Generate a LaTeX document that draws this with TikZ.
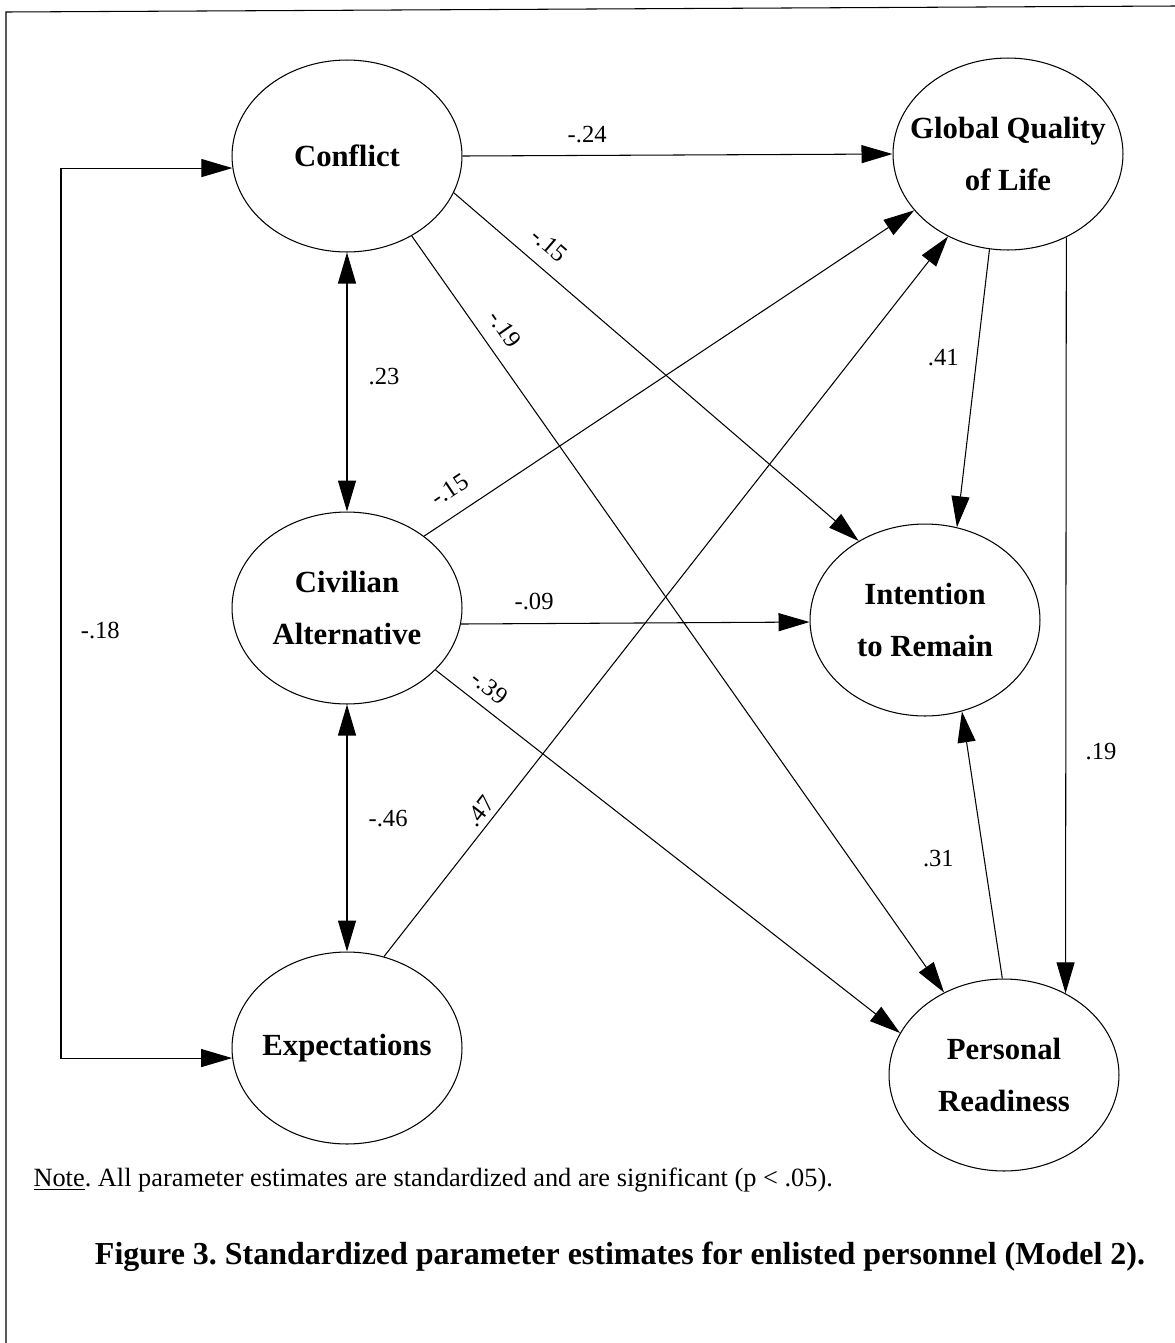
\documentclass[tikz,border=0pt]{standalone}
\usepackage{fontspec}
\setmainfont{Liberation Serif}
\usetikzlibrary{shapes.geometric,arrows.meta}
\frenchspacing

\tikzset{
  latent/.style={draw, ellipse, minimum width=4.6cm, minimum height=3.84cm, inner sep=0pt},
  nama/.style={align=center, font=\fontsize{17.5}{29.5}\selectfont\bfseries},
  coef/.style={font=\fontsize{14}{16}\selectfont, inner sep=1pt}
}

\begin{document}
\begin{tikzpicture}[x=0.02cm, y=-0.02cm, line width=0.6pt,
    >={Triangle[length=0.62cm,width=0.36cm]}]
      \useasboundingbox (0,0) rectangle (1175,1343);

      % Bingkai
      \draw (6,1343) -- (6,12) -- (1175,6);

      % Variabel laten
      \node[latent, label={[nama]center:Conflict}] (conf) at (347,156) {};
      \node[latent, label={[nama]center:Global Quality\\of Life}] (gql) at (1008,154) {};
      \node[latent, label={[nama]center:Civilian\\Alternative}] (civ) at (347,608) {};
      \node[latent, label={[nama]center:Intention\\to Remain}] (intent) at (925,620) {};
      \node[latent, label={[nama]center:Expectations}] (expect) at (347,1048) {};
      \node[latent, label={[nama]center:Personal\\Readiness}] (pers) at (1004,1075) {};
      \coordinate (rail) at (61,0);

      % Korelasi
      \draw[<->] (conf.south) -- node[coef, right=11pt, pos=0.48] {.23} (civ.north);
      \draw[<->] (civ.south) -- node[coef, right=11pt, pos=0.46] {-.46} (expect.north);
      \draw[<->] (conf.186) -- (conf.186 -| rail) |- node[coef, right=10pt, pos=0.26] {-.18} (expect.185);

      % Jalur
      \draw[->] (conf.east) -- node[coef, above=6pt, pos=0.29] {-.24} (gql.west);
      \draw[->] (conf.-19) -- node[coef, above=7pt, sloped, pos=0.2] {-.15} (intent.130);
      \draw[->] (conf.-51) -- node[coef, above=7pt, sloped, pos=0.14] {-.19} (pers.126);
      \draw[->] (civ.43) -- node[coef, above=8pt, sloped, pos=0.08] {-.15} (gql.211);
      \draw[->] (civ.-8) -- node[coef, above=6.5pt, pos=0.21] {-.09} (intent.181);
      \draw[->] (civ.-35) -- node[coef, above=5pt, sloped, pos=0.09] {-.39} (pers.158);
      \draw[->] (expect.68) -- node[coef, above=2pt, sloped, pos=0.19] {.47} (gql.234);
      \draw[->] (gql.259) -- node[coef, left=9pt, pos=0.39] {.41} (intent.71);
      \draw[->] (gql.-55) -- node[coef, right=10pt, pos=0.68] {.19} (pers.53);
      \draw[->] (pers.91) -- node[coef, left=16pt, pos=0.45] {.31} (intent.-68);

      % Keterangan
      \node[anchor=west, inner sep=0pt, font=\fontsize{15}{17}\selectfont] (note) at (33,1180)
        {\underline{Note}. All parameter estimates are standardized and are significant (p < .05).};
      \node[inner sep=0pt, font=\fontsize{18.2}{21}\selectfont\bfseries] (caption) at (620,1257)
        {Figure 3. Standardized parameter estimates for enlisted personnel (Model 2).};
\end{tikzpicture}
\end{document}
